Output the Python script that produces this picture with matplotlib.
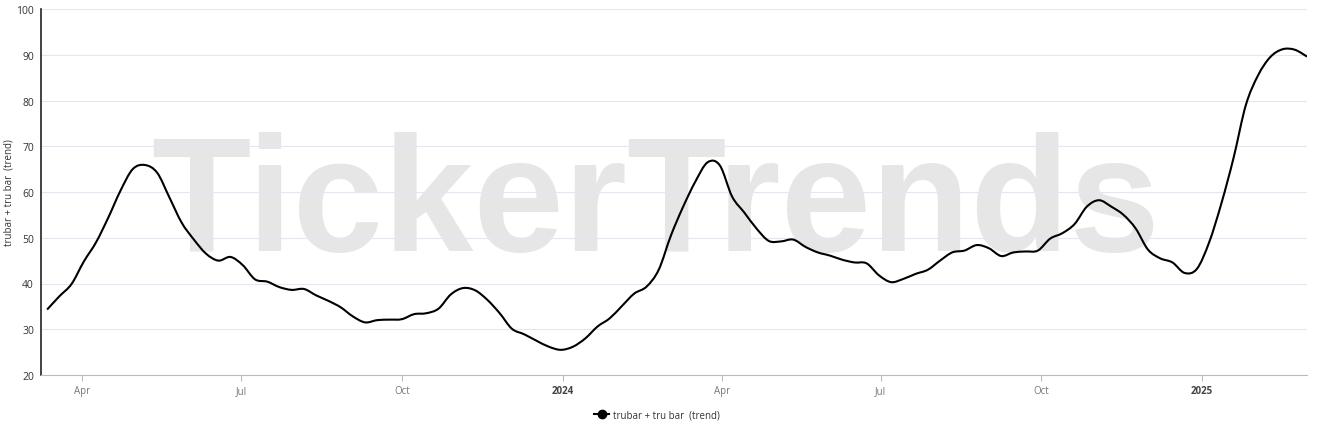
import numpy as np
import pandas as pd
import matplotlib
matplotlib.use('Agg')
import matplotlib.pyplot as plt
import matplotlib.dates as mdates
from matplotlib.lines import Line2D
from matplotlib.path import Path
from matplotlib.patches import PathPatch


_START = '2023-03-12'
_SERIES_NAME = 'trubar + tru bar  (trend)'

# weekly trend values
trend_values = [
    34.3, 37.2, 39.9, 44.8, 49.0, 54.4, 60.3, 65.0, 65.9, 64.2,
    58.8, 53.3, 49.6, 46.5, 45.0, 45.8, 44.0, 40.9, 40.4, 39.2,
    38.6, 38.8, 37.4, 36.2, 34.8, 32.8, 31.5, 32.0, 32.1, 32.2,
    33.3, 33.5, 34.5, 37.6, 39.0, 38.5, 36.4, 33.5, 30.1, 28.9,
    27.5, 26.2, 25.5, 26.2, 28.0, 30.6, 32.4, 35.1, 37.8, 39.3,
    43.0, 50.5, 56.8, 62.3, 66.5, 65.8, 59.0, 55.5, 52.0, 49.3,
    49.2, 49.6, 48.0, 46.8, 46.1, 45.2, 44.6, 44.4, 41.8, 40.3,
    41.0, 42.1, 43.0, 45.0, 46.8, 47.2, 48.4, 47.7, 46.0, 46.8,
    47.0, 47.2, 49.8, 51.0, 53.0, 56.8, 58.2, 56.8, 55.0, 52.0,
    47.4, 45.5, 44.6, 42.3, 43.2, 49.0, 57.5, 67.5, 79.0, 85.5,
    89.5, 91.2, 91.1, 89.6,
]

tick_dates = ['2023-04-01', '2023-07-01', '2023-10-01', '2024-01-01',
              '2024-04-01', '2024-07-01', '2024-10-01', '2025-01-01']
tick_labels = ['Apr', 'Jul', 'Oct', '2024', 'Apr', 'Jul', 'Oct', '2025']
y_ticks = [20, 30, 40, 50, 60, 70, 80, 90, 100]


def spline_path(x, y):
    # smooth line through the points, drawn as cubic bezier segments
    pts = np.column_stack([x, y])
    padded = np.vstack([pts[0], pts, pts[-1]])
    verts = [pts[0]]
    codes = [Path.MOVETO]
    for i in range(len(pts) - 1):
        p0, p1, p2, p3 = padded[i], padded[i + 1], padded[i + 2], padded[i + 3]
        verts += [p1 + (p2 - p0) / 6, p2 - (p3 - p1) / 6, p2]
        codes += [Path.CURVE4] * 3
    return Path(verts, codes)


def main():
    dates = pd.date_range(_START, periods=len(trend_values), freq='7D')
    df = pd.DataFrame({'date': dates, 'value': trend_values})

    plt.rcParams['font.family'] = ['Open Sans', 'DejaVu Sans']

    fig = plt.figure(figsize=(13.22, 4.27), dpi=100)
    ax = fig.add_axes([41 / 1322, 51 / 427, 1266 / 1322, 366 / 427])

    # watermark
    ax.text(0.485, 0.458, 'TickerTrends', transform=ax.transAxes,
            fontsize=117, fontweight='bold', color='#e6e6e6',
            family='Liberation Sans', ha='center', va='center', zorder=0)

    xnum = mdates.date2num(df['date'])
    ax.add_patch(PathPatch(spline_path(xnum, df['value'].values), facecolor='none',
                           edgecolor='black', linewidth=1.5, zorder=3))

    ax.set_ylim(20, 100)
    ax.set_yticks(y_ticks)
    ax.set_xlim(df['date'].iloc[0] - pd.Timedelta(days=3.5), df['date'].iloc[-1])

    ticks = pd.to_datetime(tick_dates)
    ax.set_xticks(ticks)
    ax.set_xticklabels(tick_labels)
    for lbl in ax.get_xticklabels():
        if lbl.get_text().isdigit():
            lbl.set_fontweight('bold')
            lbl.set_color('#444444')
        else:
            lbl.set_color('#777777')

    ax.grid(axis='y', color='#e6e6ef', linewidth=0.8, zorder=1)
    ax.set_axisbelow(True)

    for side in ['top', 'right']:
        ax.spines[side].set_visible(False)
    ax.spines['left'].set_color('#222222')
    ax.spines['left'].set_linewidth(1.2)
    ax.spines['bottom'].set_color('#b8bcc8')

    ax.tick_params(axis='y', length=0, labelsize=7.5, labelcolor='#333333', pad=5)
    ax.tick_params(axis='x', length=4, color='#b8bcc8', labelsize=7, pad=3)

    ax.set_ylabel(_SERIES_NAME, fontsize=7, color='#333333')
    ax.yaxis.set_label_coords(-26 / 1266, 0.5)

    handle = Line2D([], [], color='black', linewidth=1.5, marker='o', markersize=6)
    fig.legend([handle], [_SERIES_NAME], loc='center', bbox_to_anchor=(0.497, 0.025),
               frameon=False, fontsize=7, handlelength=1.6, handletextpad=0.4,
               labelcolor='#333333')

    fig.savefig('out.png', dpi=100)


if __name__ == '__main__':
    main()
